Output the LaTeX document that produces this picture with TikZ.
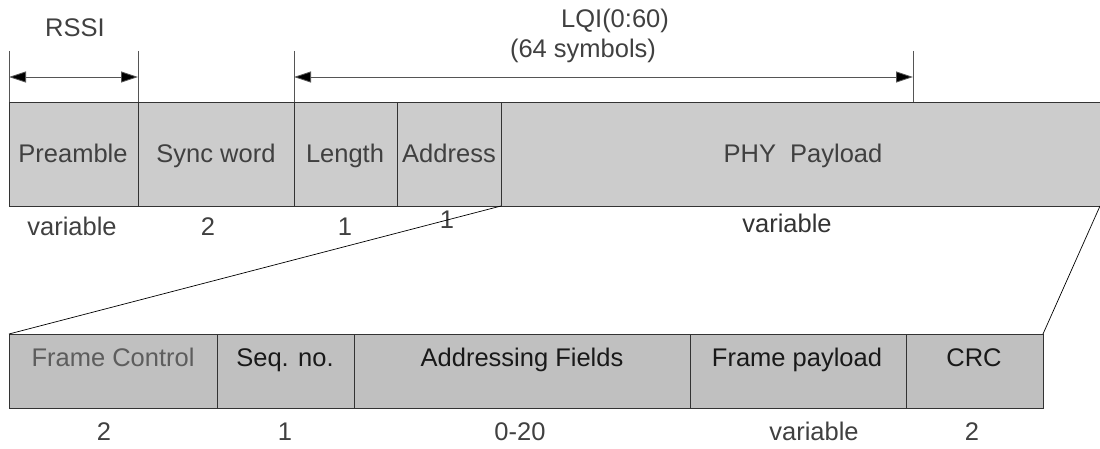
\documentclass[tikz,border=0pt]{standalone}
\usepackage{fontspec}
\setmainfont{Liberation Sans}
\usetikzlibrary{arrows.meta}
\definecolor{phyfill}{HTML}{CCCCCC}
\definecolor{macfill}{HTML}{C0C0C0}
\definecolor{labeltext}{HTML}{404040}
\definecolor{edge}{HTML}{333333}
\definecolor{dimline}{HTML}{555555}
\begin{document}
\begin{tikzpicture}[x=1pt,y=-1pt,
  every node/.style={font=\fontsize{25.5}{30}\selectfont, inner sep=0pt, outer sep=0pt},
  phyfield/.style={draw=edge, fill=phyfill, line width=0.8pt, anchor=north west,
                   minimum height=104pt},
  macfield/.style={draw=edge, fill=macfill, line width=0.8pt, anchor=north west,
                   minimum height=74pt},
  txt/.style={anchor=base, text=labeltext},
  dtxt/.style={anchor=base, text=black!90},
  tick/.style={draw=dimline, line width=0.8pt},
  dim/.style={draw=dimline, line width=0.8pt,
              {Triangle[length=17pt,width=11pt,fill=black]}-{Triangle[length=17pt,width=11pt,fill=black]}},
  fan/.style={draw=black, line width=0.7pt}]
\useasboundingbox (0,0) rectangle (1100,449);
\clip (0,0) rectangle (1100,449);

% PHY frame
\node[phyfield, minimum width=129pt] (pre)  at (9,102)   {};
\node[phyfield, minimum width=156pt] (sync) at (138,102) {};
\node[phyfield, minimum width=103pt] (len)  at (294,102) {};
\node[phyfield, minimum width=104pt] (addr) at (397,102) {};
\node[phyfield, minimum width=610pt] (phy)  at (501,102) {};

\node[txt] (tpre)  at (73,163)  {Preamble};
\node[txt] (tsync) at (216,163) {Sync word};
\node[txt] (tlen)  at (345,163) {Length};
\node[txt] (taddr) at (449,163) {Address};
\node[txt] (tphy)  at (803,163) {PHY\ \ Payload};

% PHY field sizes
\node[txt] (spre)  at (72,235)  {variable};
\node[txt] (ssync) at (208,235) {2};
\node[txt] (slen)  at (345,235) {1};
\node[txt] (saddr) at (447,229) {1};
\node[dtxt, text=black!80] (sphy) at (787,233) {variable};

% RSSI and LQI spans
\coordinate (r0) at (9,51);
\coordinate (r1) at (138,51);
\coordinate (q0) at (294,51);
\coordinate (q1) at (913,51);
\draw[tick] (r0) -- (pre.north west);
\draw[tick] (r1) -- (sync.north west);
\draw[tick] (q0) -- (len.north west);
\draw[tick] (q1) -- (q1 |- phy.north);
\draw[dim] ([yshift=-26pt]r0) -- ([yshift=-26pt]r1);
\draw[dim] ([yshift=-26pt]q0) -- ([yshift=-26pt]q1);
\node[txt] (rssi) at (75,37) {RSSI};
\node[txt] (lqi)  at (615,28) {LQI(0:60)};
\node[txt] (sym)  at (583,58) {(64 symbols)};

% MAC frame
\node[macfield, minimum width=208pt] (fc)  at (9,334)   {};
\node[macfield, minimum width=137pt] (seq) at (217,334) {};
\node[macfield, minimum width=336pt] (af)  at (354,334) {};
\node[macfield, minimum width=216pt] (fp)  at (690,334) {};
\node[macfield, minimum width=137pt] (crc) at (906,334) {};

\node[txt, text=labeltext!85] (tfc) at (113,366) {Frame Control};
\node[dtxt] (tseq) at (285,366) {Seq. no.};
\node[dtxt] (taf)  at (522,366) {Addressing Fields};
\node[dtxt] (tfp)  at (797,366) {Frame payload};
\node[dtxt] (tcrc) at (974,366) {CRC};

% MAC field sizes
\node[txt] (sfc)  at (104,440) {2};
\node[txt] (sseq) at (285,440) {1};
\node[txt] (saf)  at (520,440) {0-20};
\node[txt] (sfp)  at (814,440) {variable};
\node[txt] (scrc) at (972,440) {2};

% Expansion of the PHY payload into the MAC frame
\coordinate (phyend) at (1100,206);
\draw[fan] (phy.south west) -- (fc.north west);
\draw[fan] (phyend) -- (crc.north east);
\end{tikzpicture}
\end{document}
